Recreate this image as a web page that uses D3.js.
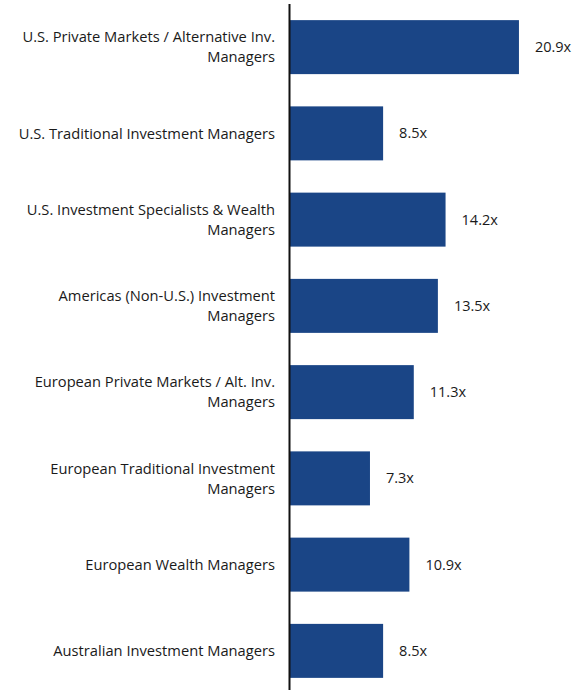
<!DOCTYPE html>
<html>
<head>
<meta charset="utf-8">
<script src="https://cdn.jsdelivr.net/npm/d3@7"></script>
<style>
  body { margin: 0; background: #fff; }
  text { font-family: "Open Sans", "Noto Sans", sans-serif; }
</style>
</head>
<body>
<div id="chart"></div>
<script>
var width = 575,
    height = 690;

// data
var categories = [
    "U.S. Private Markets / Alternative Inv. Managers",
    "U.S. Traditional Investment Managers",
    "U.S. Investment Specialists & Wealth Managers",
    "Americas (Non-U.S.) Investment Managers",
    "European Private Markets / Alt. Inv. Managers",
    "European Traditional Investment Managers",
    "European Wealth Managers",
    "Australian Investment Managers"
];
var labelLines = [
    ["U.S. Private Markets / Alternative Inv.", "Managers"],
    ["U.S. Traditional Investment Managers"],
    ["U.S. Investment Specialists & Wealth", "Managers"],
    ["Americas (Non-U.S.) Investment", "Managers"],
    ["European Private Markets / Alt. Inv.", "Managers"],
    ["European Traditional Investment", "Managers"],
    ["European Wealth Managers"],
    ["Australian Investment Managers"]
];
var values = [20.9, 8.5, 14.2, 13.5, 11.3, 7.3, 10.9, 8.5];

var x0 = 290;

var x = d3.scaleLinear()
    .domain([0, 22])
    .range([x0, x0 + 241]);

var y = d3.scaleBand()
    .domain(categories)
    .range([4, 694])
    .paddingInner(0.374)
    .paddingOuter(0.187);

var svg = d3.select("#chart").append("svg")
    .attr("width", width)
    .attr("height", height);

svg.selectAll("rect.bar")
    .data(values)
    .enter().append("rect")
    .attr("class", "bar")
    .attr("x", x(0))
    .attr("y", function (d, i) { return y(categories[i]); })
    .attr("width", function (d) { return x(d) - x(0); })
    .attr("height", y.bandwidth())
    .attr("fill", "#1a4586");

// value labels
svg.selectAll("text.val")
    .data(values)
    .enter().append("text")
    .attr("class", "val")
    .attr("x", function (d) { return x(d) + 16; })
    .attr("y", function (d, i) { return y(categories[i]) + y.bandwidth() / 2; })
    .attr("dy", "0.35em")
    .attr("font-size", "14.5px")
    .attr("fill", "#1a1a1a")
    .text(function (d) { return d.toFixed(1) + "x"; });

// category labels
var lab = svg.selectAll("text.cat")
    .data(categories)
    .enter().append("text")
    .attr("class", "cat")
    .attr("text-anchor", "end")
    .attr("font-size", "14.7px")
    .attr("fill", "#1a1a1a");

lab.each(function (d, i) {
    var lines = labelLines[i];
    var cy = y(d) + y.bandwidth() / 2;
    var lh = 20;
    var start = cy - (lines.length - 1) * lh / 2;
    d3.select(this).selectAll("tspan")
        .data(lines)
        .enter().append("tspan")
        .attr("x", 275)
        .attr("y", function (l, j) { return start + j * lh; })
        .attr("dy", "0.35em")
        .text(function (l) { return l; });
});

// axis line
svg.append("line")
    .attr("x1", x(0) - 0.5)
    .attr("x2", x(0) - 0.5)
    .attr("y1", 4)
    .attr("y2", height)
    .attr("stroke", "#111")
    .attr("stroke-width", 2);
</script>
</body>
</html>
